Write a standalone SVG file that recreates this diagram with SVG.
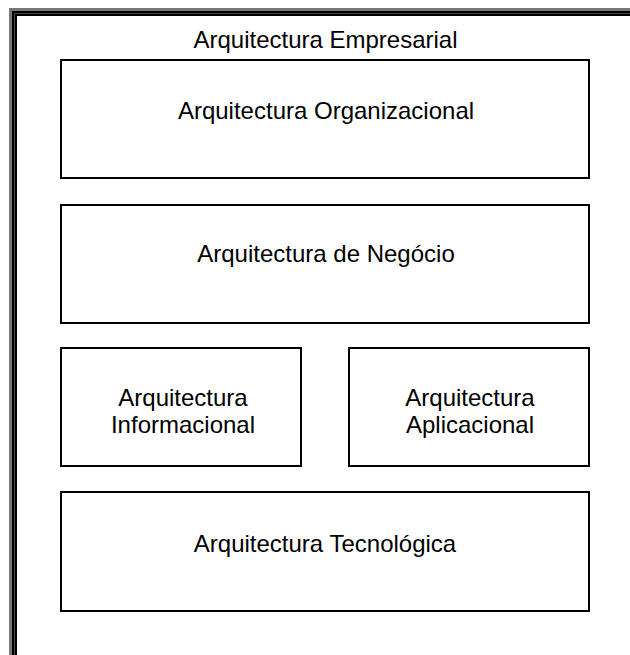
<svg xmlns="http://www.w3.org/2000/svg" width="630" height="655" viewBox="0 0 630 655">
<style>
.box{fill:#fff;stroke:#000;stroke-width:2}
.t{font-family:"Liberation Sans",Arial,sans-serif;font-size:24px;fill:#000;text-anchor:middle}
</style>
<rect width="630" height="655" fill="#fff"/>
<g id="frame">
<rect x="9" y="8" width="700" height="700" fill="#777"/>
<rect x="12" y="11" width="700" height="700" fill="#000"/>
<rect x="14" y="13" width="700" height="700" fill="#444"/>
<rect x="15" y="14" width="700" height="700" fill="#000"/>
<rect x="17" y="16" width="700" height="700" fill="#fff"/>
<text class="t" x="325.5" y="48">Arquitectura Empresarial</text>
</g>
<g id="organizacional">
<rect class="box" x="61" y="60" width="528" height="118"/>
<text class="t" x="326" y="119">Arquitectura Organizacional</text>
</g>
<g id="negocio">
<rect class="box" x="61" y="205" width="528" height="118"/>
<text class="t" x="326" y="262">Arquitectura de Negócio</text>
</g>
<g id="informacional">
<rect class="box" x="61" y="348" width="240" height="118"/>
<text class="t" x="183" y="406">Arquitectura</text>
<text class="t" x="183" y="433">Informacional</text>
</g>
<g id="aplicacional">
<rect class="box" x="349" y="348" width="240" height="118"/>
<text class="t" x="470" y="406">Arquitectura</text>
<text class="t" x="470" y="433">Aplicacional</text>
</g>
<g id="tecnologica">
<rect class="box" x="61" y="492" width="528" height="119"/>
<text class="t" x="325" y="552">Arquitectura Tecnológica</text>
</g>
<g id="connectors"/>
</svg>
